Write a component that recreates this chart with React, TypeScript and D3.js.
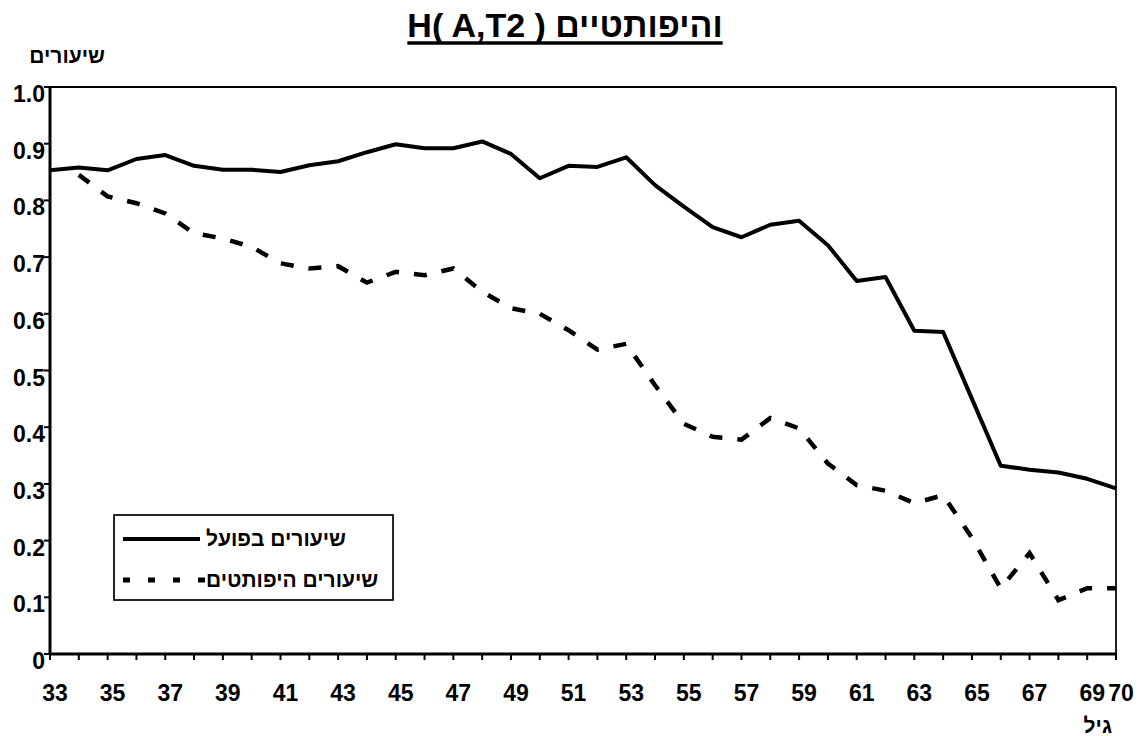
import React, { useEffect, useRef } from 'react'
import * as d3 from 'd3'

const ages = [33, 34, 35, 36, 37, 38, 39, 40, 41, 42, 43, 44, 45, 46, 47, 48, 49, 50, 51, 52,
  53, 54, 55, 56, 57, 58, 59, 60, 61, 62, 63, 64, 65, 66, 67, 68, 69, 70]

// שיעורים בפועל
const actual = [0.853, 0.858, 0.853, 0.873, 0.880, 0.861, 0.854, 0.854, 0.850, 0.862, 0.869, 0.885,
  0.899, 0.892, 0.892, 0.904, 0.882, 0.839, 0.861, 0.859, 0.876, 0.827, 0.789, 0.753, 0.735, 0.757,
  0.764, 0.721, 0.658, 0.665, 0.570, 0.568, 0.450, 0.332, 0.325, 0.320, 0.309, 0.292]

// שיעורים היפותטים (no value at 33)
const hypothetical = [null, 0.845, 0.807, 0.795, 0.777, 0.742, 0.733, 0.718, 0.689, 0.680, 0.684, 0.655,
  0.674, 0.668, 0.680, 0.639, 0.610, 0.600, 0.571, 0.537, 0.547, 0.474, 0.406, 0.383, 0.378, 0.416,
  0.398, 0.336, 0.298, 0.288, 0.266, 0.280, 0.205, 0.116, 0.178, 0.095, 0.116, 0.116]

const xTickLabels = [33, 35, 37, 39, 41, 43, 45, 47, 49, 51, 53, 55, 57, 59, 61, 63, 65, 67, 69, 70]
const yTicks = [0, 0.1, 0.2, 0.3, 0.4, 0.5, 0.6, 0.7, 0.8, 0.9, 1.0]
const yTickLabels = ['0', '0.1', '0.2', '0.3', '0.4', '0.5', '0.6', '0.7', '0.8', '0.9', '1.0']

const seriesNames = ['שיעורים בפועל', 'שיעורים היפותטים']
const title = 'H( A,T2 ) והיפותטיים'

const W = 1141
const H = 736
const FONT = '"Liberation Sans", Arial, sans-serif'

export default function App() {
  const ref = useRef<SVGSVGElement>(null)

  useEffect(() => {
    const node = ref.current
    if (!node) return
    const svg = d3.select(node)
    svg.selectAll('*').remove()

    const left = 50, right = 1116, top = 87, bottom = 654

    const x = d3.scaleLinear().domain([33, 70]).range([left, right])
    const y = d3.scaleLinear().domain([0, 1]).range([bottom, top])

    svg.append('rect').attr('width', W).attr('height', H).attr('fill', '#fff')

    // title + underline
    const t = svg.append('text')
      .attr('x', 565).attr('y', 37)
      .attr('text-anchor', 'middle')
      .attr('font-family', FONT).attr('font-weight', 'bold').attr('font-size', 34)
      .text(title)
    const bb = (t.node() as SVGTextElement).getBBox()
    svg.append('line')
      .attr('x1', bb.x).attr('x2', bb.x + bb.width)
      .attr('y1', 43).attr('y2', 43)
      .attr('stroke', '#000').attr('stroke-width', 3.5)

    // axis titles
    svg.append('text')
      .attr('x', 105).attr('y', 63).attr('text-anchor', 'end')
      .attr('font-family', FONT).attr('font-weight', 'bold').attr('font-size', 21)
      .text('שיעורים')
    svg.append('text')
      .attr('x', 1112).attr('y', 733).attr('text-anchor', 'end')
      .attr('font-family', FONT).attr('font-weight', 'bold').attr('font-size', 21)
      .text('גיל')

    // plot frame: top/right thin
    svg.append('line').attr('x1', left).attr('x2', right).attr('y1', top).attr('y2', top)
      .attr('stroke', '#000').attr('stroke-width', 2)
    svg.append('line').attr('x1', right).attr('x2', right).attr('y1', top).attr('y2', bottom)
      .attr('stroke', '#222').attr('stroke-width', 2)

    // y axis
    const yAxis = svg.append('g')
    yAxis.selectAll('line.tick')
      .data(yTicks)
      .join('line')
      .attr('class', 'tick')
      .attr('x1', left - 6).attr('x2', left)
      .attr('y1', (d) => y(d)).attr('y2', (d) => y(d))
      .attr('stroke', '#000').attr('stroke-width', 2)
    yAxis.selectAll('text')
      .data(yTicks)
      .join('text')
      .attr('x', left - 5).attr('y', (d) => y(d) + 15)
      .attr('text-anchor', 'end')
      .attr('font-family', FONT).attr('font-weight', 'bold').attr('font-size', 23)
      .text((d, i) => yTickLabels[i])
    yAxis.append('line').attr('x1', left).attr('x2', left).attr('y1', top - 1).attr('y2', bottom + 1)
      .attr('stroke', '#000').attr('stroke-width', 3)

    // x axis
    const xAxis = svg.append('g')
    xAxis.selectAll('line.tick')
      .data(ages)
      .join('line')
      .attr('class', 'tick')
      .attr('x1', (d) => x(d)).attr('x2', (d) => x(d))
      .attr('y1', bottom).attr('y2', bottom + 6)
      .attr('stroke', '#000').attr('stroke-width', 2)
    xAxis.selectAll('text')
      .data(xTickLabels)
      .join('text')
      .attr('x', (d) => x(d) + 5).attr('y', 701)
      .attr('text-anchor', 'middle')
      .attr('font-family', FONT).attr('font-weight', 'bold').attr('font-size', 23)
      .text((d) => String(d))
    xAxis.append('line').attr('x1', left - 1).attr('x2', right + 1).attr('y1', bottom).attr('y2', bottom)
      .attr('stroke', '#000').attr('stroke-width', 3)

    // lines
    const line = d3.line<number | null>()
      .defined((d) => d != null)
      .x((d, i) => x(ages[i]))
      .y((d) => y(d as number))

    svg.append('path')
      .attr('d', line(hypothetical))
      .attr('fill', 'none').attr('stroke', '#000').attr('stroke-width', 4.5)
      .attr('stroke-dasharray', '13,15')

    svg.append('path')
      .attr('d', line(actual))
      .attr('fill', 'none').attr('stroke', '#000').attr('stroke-width', 4)
      .attr('stroke-linejoin', 'round')

    // legend
    const lg = svg.append('g')
    lg.append('rect')
      .attr('x', 114).attr('y', 515).attr('width', 279).attr('height', 85)
      .attr('fill', '#fff').attr('stroke', '#000').attr('stroke-width', 1.7)
    lg.append('line').attr('x1', 123).attr('x2', 200).attr('y1', 539).attr('y2', 539)
      .attr('stroke', '#000').attr('stroke-width', 4)
    lg.append('line').attr('x1', 123).attr('x2', 205).attr('y1', 580).attr('y2', 580)
      .attr('stroke', '#000').attr('stroke-width', 5)
      .attr('stroke-dasharray', '7,18')
    lg.selectAll('text')
      .data(seriesNames)
      .join('text')
      .attr('x', 206).attr('y', (d, i) => (i === 0 ? 546 : 587))
      .attr('font-family', FONT).attr('font-weight', 'bold').attr('font-size', 21)
      .text((d) => d)
  }, [])

  return (
    <svg ref={ref} width={W} height={H} viewBox={`0 0 ${W} ${H}`}
      style={{ position: 'absolute', left: 0, top: 0, display: 'block' }} />
  )
}
